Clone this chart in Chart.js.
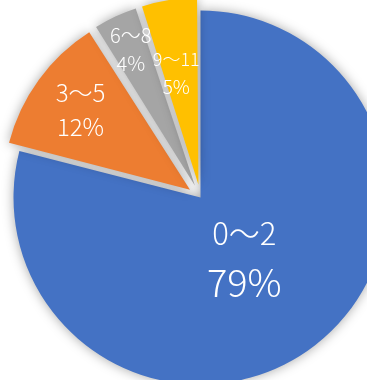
<!DOCTYPE html>
<html>
<head>
<meta charset="utf-8">
<script src="https://cdn.jsdelivr.net/npm/chart.js@4/dist/chart.umd.min.js"></script>
<style>
  html, body { margin: 0; padding: 0; background: #ffffff; overflow: hidden; }
  canvas { display: block; }
</style>
</head>
<body>
<canvas id="pie" width="367" height="380"></canvas>
<script>
// age groups and their share of the total (%)
const groups = ['0〜2', '3〜5', '6〜8', '9〜11'];
const shares = [79, 12, 4, 5];
const sliceColors = ['#4472C4', '#ED7D31', '#A5A5A5', '#FFC000'];
const explode = [0, 52, 52, 52];

// label placement along each slice's bisector, and text sizes
const labelDist = [0.4, 0.74, 0.85, 0.64];
const labelTurn = [0.035, 0, 0, -0.035];
const groupFont = [31, 24, 20, 18];
const shareFont = [38, 24, 20, 19];
const lineGap = [49, 34, 28, 28];
const FONT = '"Noto Sans CJK JP", "Noto Sans", sans-serif';

// chart.js grows an exploded arc's radius a bit; undo that so pieces keep the same size
const keepRadius = {
    id: 'keepRadius',
    afterUpdate(chart) {
        chart.getDatasetMeta(0).data.forEach(arc => {
            const span = arc.endAngle - arc.startAngle;
            const fix = 1 - Math.sin(Math.min(Math.PI, span));
            arc.outerRadius -= ((arc.options.offset || 0) / 4) * fix;
        });
    }
};

// soft drop shadow under all slices
const softShadow = {
    id: 'softShadow',
    beforeDatasetsDraw(chart) {
        const ctx = chart.ctx;
        ctx.save();
        ctx.shadowColor = 'rgba(0, 0, 0, 0.35)';
        ctx.shadowBlur = 12;
        ctx.shadowOffsetX = 0;
        ctx.shadowOffsetY = 0;
    },
    afterDatasetsDraw(chart) {
        chart.ctx.restore();
    }
};

// two-line white labels: group name and percentage
const sliceLabels = {
    id: 'sliceLabels',
    afterDatasetsDraw(chart) {
        const ctx = chart.ctx;
        const meta = chart.getDatasetMeta(0);
        ctx.save();
        ctx.fillStyle = '#ffffff';
        ctx.textAlign = 'center';
        ctx.textBaseline = 'middle';
        meta.data.forEach((arc, i) => {
            const mid = (arc.startAngle + arc.endAngle) / 2 + labelTurn[i];
            const d = (arc.options.offset || 0) / 4 + arc.outerRadius * labelDist[i];
            const x = arc.x + Math.cos(mid) * d;
            const y = arc.y + Math.sin(mid) * d;
            ctx.font = '300 ' + groupFont[i] + 'px ' + FONT;
            ctx.fillText(groups[i], x, y - lineGap[i] / 2);
            ctx.font = '300 ' + shareFont[i] + 'px ' + FONT;
            ctx.fillText(shares[i] + '%', x, y + lineGap[i] / 2);
        });
        ctx.restore();
    }
};

new Chart(document.getElementById('pie').getContext('2d'), {
    type: 'pie',
    data: {
        labels: groups,
        datasets: [{
            data: shares,
            backgroundColor: sliceColors,
            borderWidth: 0,
            offset: explode,
            hoverOffset: 0
        }]
    },
    options: {
        responsive: false,
        devicePixelRatio: 1,
        animation: false,
        radius: 187,
        layout: { padding: { left: 34, top: 15, right: 0, bottom: 0 } },
        plugins: {
            legend: { display: false },
            tooltip: { enabled: false }
        }
    },
    plugins: [keepRadius, softShadow, sliceLabels]
});
</script>
</body>
</html>
